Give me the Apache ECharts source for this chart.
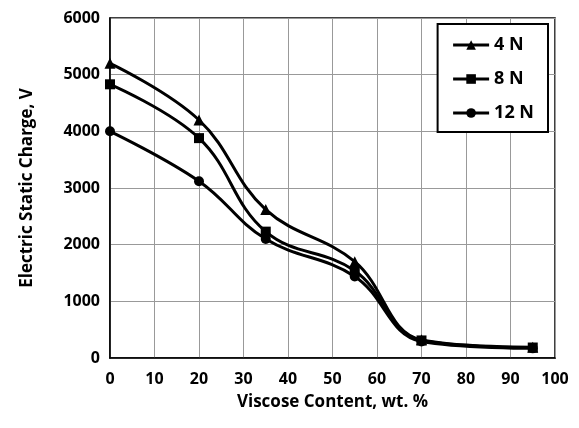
<!DOCTYPE html>
<html>
<head>
<meta charset="utf-8">
<script src="https://cdn.jsdelivr.net/npm/echarts@6/dist/echarts.min.js"></script>
<style>html,body{margin:0;padding:0;background:#fff;}#c{width:579px;height:428px;}</style>
</head>
<body>
<div id="c"></div>
<script>
var xValues = [0, 20, 35, 55, 70, 95];
var s4N = [5200, 4200, 2620, 1700, 320, 190];
var s8N = [4830, 3880, 2230, 1540, 310, 185];
var s12N = [4000, 3120, 2100, 1440, 290, 170];
var seriesNames = ['4 N', '8 N', '12 N'];
var symbols = ['triangle', 'rect', 'circle'];

var FONT = 'Open Sans';
function pairs(vals){ return xValues.map(function(x,i){ return [x, vals[i]]; }); }
var all = [s4N, s8N, s12N];
var chart = echarts.init(document.getElementById('c'));
chart.setOption({
  animation: false,
  backgroundColor: '#fff',
  grid: { left: 110, right: 24, top: 18, bottom: 70, show: true, borderColor: '#000', borderWidth: 1.5 },
  legend: {
    right: 31, top: 24, orient: 'vertical',
    data: seriesNames,
    backgroundColor: '#fff', borderColor: '#000', borderWidth: 2,
    padding: [12, 14, 10, 14], itemGap: 16, itemWidth: 36, itemHeight: 12,
    lineStyle: { width: 3, color: '#000' },
    textStyle: { fontFamily: FONT, fontWeight: 'bold', fontSize: 18, color: '#000' }
  },
  xAxis: {
    type: 'value', min: 0, max: 100, interval: 10,
    name: 'Viscose Content, wt. %', nameLocation: 'middle', nameGap: 36,
    nameTextStyle: { fontFamily: FONT, fontWeight: 'bold', fontSize: 17, color: '#000' },
    axisLine: { show: true, lineStyle: { color: '#000', width: 1.5 } },
    axisTick: { show: false },
    axisLabel: { fontFamily: FONT, fontWeight: 'bold', fontSize: 16, color: '#000', margin: 13 },
    splitLine: { show: true, lineStyle: { color: '#999', width: 1 } }
  },
  yAxis: {
    type: 'value', min: 0, max: 6000, interval: 1000,
    name: 'Electric Static Charge, V', nameLocation: 'middle', nameGap: 74,
    nameTextStyle: { fontFamily: FONT, fontWeight: 'bold', fontSize: 17, color: '#000' },
    axisLine: { show: true, lineStyle: { color: '#000', width: 1.5 } },
    axisTick: { show: false },
    axisLabel: { fontFamily: FONT, fontWeight: 'bold', fontSize: 16, color: '#000', margin: 10,
      formatter: function(v){ return String(v); } },
    splitLine: { show: true, lineStyle: { color: '#999', width: 1 } }
  },
  series: all.map(function(vals, i){
    return {
      name: seriesNames[i], type: 'line', data: pairs(vals), smooth: 0.4,
      symbol: symbols[i], symbolSize: i === 0 ? 11 : 10,
      lineStyle: { color: '#000', width: 3 },
      itemStyle: { color: '#000' }
    };
  })
});
</script>
</body>
</html>
